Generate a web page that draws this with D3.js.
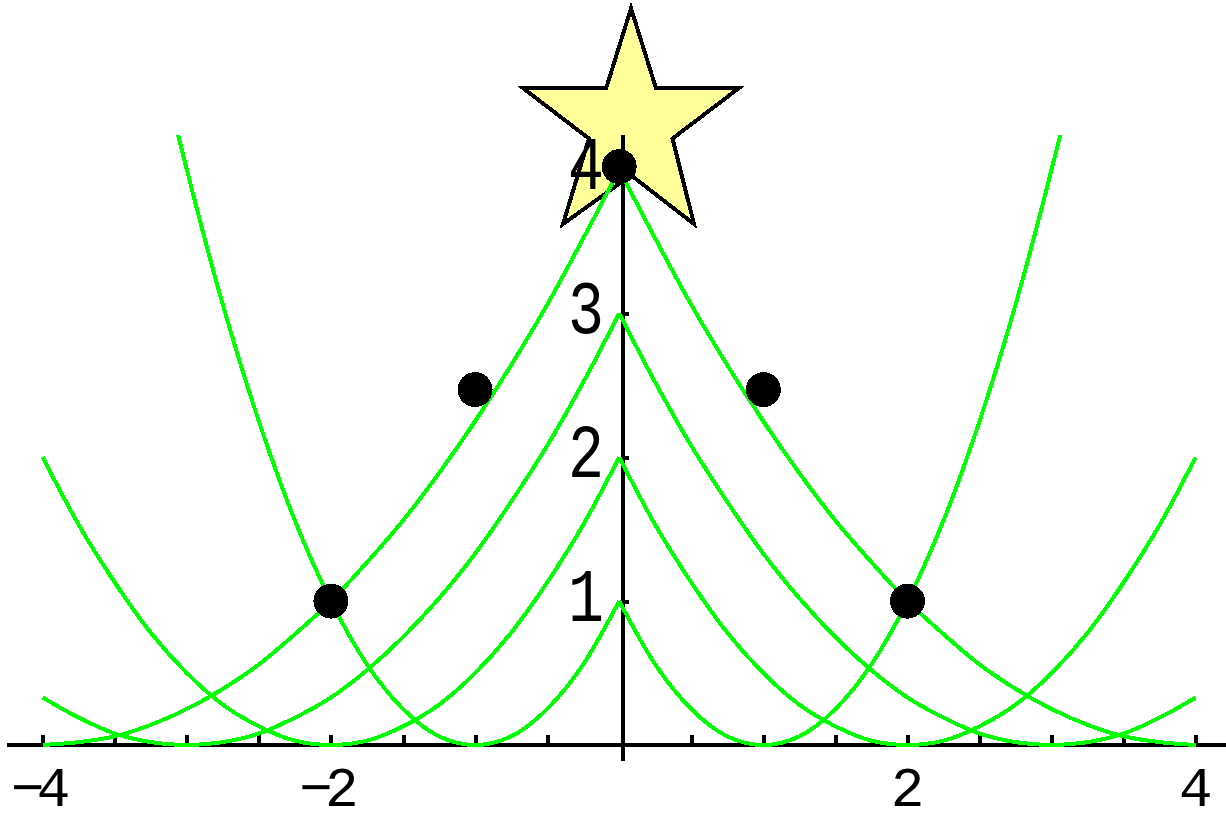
<!DOCTYPE html>
<html>
<head>
<meta charset="utf-8">
<script src="https://cdn.jsdelivr.net/npm/d3@7"></script>
<style>
  body { margin: 0; background: #fff; }
  svg { display: block; }
</style>
</head>
<body></body>
<script>

    // page size
    var width = 1226, height = 816;

    // sample points of the branches
    var xLeft  = [-4, -3.75, -3.5, -3.25, -3, -2.75, -2.5, -2.25, -2, -1.75, -1.5, -1.25, -1, -0.75, -0.5, -0.25, 0];
    var xRight = [0, 0.25, 0.5, 0.75, 1, 1.25, 1.5, 1.75, 2, 2.25, 2.5, 2.75, 3, 3.25, 3.5, 3.75, 4];
    var xLeftOuter  = [-3.06, -3, -2.75, -2.5, -2.25, -2, -1.75, -1.5, -1.25, -1, -0.75, -0.5, -0.25, 0];
    var xRightOuter = [0, 0.25, 0.5, 0.75, 1, 1.25, 1.5, 1.75, 2, 2.25, 2.5, 2.75, 3, 3.06];

    var branch4Left  = [0, 0.02, 0.06, 0.14, 0.25, 0.39, 0.56, 0.77, 1, 1.27, 1.56, 1.89, 2.25, 2.64, 3.06, 3.52, 4];
    var branch4Right = [4, 3.52, 3.06, 2.64, 2.25, 1.89, 1.56, 1.27, 1, 0.77, 0.56, 0.39, 0.25, 0.14, 0.06, 0.02, 0];
    var branch3Left  = [0.33, 0.19, 0.08, 0.02, 0, 0.02, 0.08, 0.19, 0.33, 0.52, 0.75, 1.02, 1.33, 1.69, 2.08, 2.52, 3];
    var branch3Right = [3, 2.52, 2.08, 1.69, 1.33, 1.02, 0.75, 0.52, 0.33, 0.19, 0.08, 0.02, 0, 0.02, 0.08, 0.19, 0.33];
    var branch2Left  = [2, 1.53, 1.13, 0.78, 0.5, 0.28, 0.13, 0.03, 0, 0.03, 0.13, 0.28, 0.5, 0.78, 1.13, 1.53, 2];
    var branch2Right = [2, 1.53, 1.13, 0.78, 0.5, 0.28, 0.13, 0.03, 0, 0.03, 0.13, 0.28, 0.5, 0.78, 1.13, 1.53, 2];
    var branch1Left  = [4.24, 4, 3.06, 2.25, 1.56, 1, 0.56, 0.25, 0.06, 0, 0.06, 0.25, 0.56, 1];
    var branch1Right = [1, 0.56, 0.25, 0.06, 0, 0.06, 0.25, 0.56, 1, 1.56, 2.25, 3.06, 4, 4.24];

    // ornaments
    var ballX = [-2, -1, 0, 1, 2];
    var ballY = [1, 2.47, 4.02, 2.47, 1];

    // star outline (data units)
    var starX = [0.082, 0.255, 0.831, 0.37, 0.519, 0.082, -0.39, -0.21, -0.668, -0.09];
    var starY = [5.12, 4.566, 4.566, 4.215, 3.621, 3.96, 3.621, 4.215, 4.566, 4.566];

    // ticks
    var xTicks = [-4, -3.5, -3, -2.5, -2, -1.5, -1, -0.5, 0.5, 1, 1.5, 2, 2.5, 3, 3.5, 4];
    var xLabels = [-4, -2, 2, 4];
    var yTicks = [1, 2, 3, 4];
    var yAxisAt = 0.025;

    var x = d3.scaleLinear().domain([-4, 4]).range([42.7, 1195.7]);
    var y = d3.scaleLinear().domain([0, 4]).range([745, 169.5]);

    var svg = d3.select("body")
        .append("svg")
        .attr("width", width)
        .attr("height", height);

    var green = "#00ff00";

    //star behind everything
    var starPts = starX.map(function (d, i) { return [d, starY[i]]; });
    svg.append("path")
        .attr("d", d3.line().x(d => x(d[0])).y(d => y(d[1]))(starPts) + "Z")
        .attr("fill", "#ffff99")
        .attr("stroke", "black")
        .attr("stroke-width", 4)
        .attr("stroke-linejoin", "miter")
        .style("shape-rendering", "crispEdges");

    //x-axis
    svg.append("line")
        .attr("x1", x(-4.25)).attr("x2", x(4.3))
        .attr("y1", y(0)).attr("y2", y(0))
        .attr("stroke", "black").attr("stroke-width", 4)
        .style("shape-rendering", "crispEdges");

    var xAxis = svg.append("g")
        .attr("transform", "translate(0," + y(0) + ")")
        .call(d3.axisTop(x).tickValues(xTicks).tickSize(10).tickFormat(""));
    xAxis.select(".domain").remove();
    xAxis.selectAll("line").attr("stroke", "black").attr("stroke-width", 4)
        .style("shape-rendering", "crispEdges");

    //y-axis
    svg.append("line")
        .attr("x1", x(yAxisAt)).attr("x2", x(yAxisAt))
        .attr("y1", y(4.24)).attr("y2", y(-0.11))
        .attr("stroke", "black").attr("stroke-width", 4)
        .style("shape-rendering", "crispEdges");

    var yAxis = svg.append("g")
        .attr("transform", "translate(" + x(yAxisAt) + ",0)")
        .call(d3.axisRight(y).tickValues(yTicks).tickSize(6).tickFormat(""));
    yAxis.select(".domain").remove();
    yAxis.selectAll("line").attr("stroke", "black").attr("stroke-width", 4)
        .style("shape-rendering", "crispEdges");

    //branches
    var branches = [
        [xLeft, branch4Left], [xRight, branch4Right],
        [xLeft, branch3Left], [xRight, branch3Right],
        [xLeft, branch2Left], [xRight, branch2Right],
        [xLeftOuter, branch1Left], [xRightOuter, branch1Right]
    ];
    var line = d3.line()
        .x(d => x(d[0]))
        .y(d => y(d[1]))
        .curve(d3.curveMonotoneX);

    svg.append("g")
        .selectAll("path")
        .data(branches)
        .enter()
        .append("path")
        .attr("d", function (b) {
            return line(b[0].map(function (v, i) { return [v, b[1][i]]; }));
        })
        .attr("fill", "none")
        .attr("stroke", green)
        .attr("stroke-width", 4)
        .style("shape-rendering", "crispEdges");

    //tick labels
    svg.append("g")
        .selectAll("text")
        .data(xLabels)
        .enter()
        .append("text")
        .attr("x", d => x(d) + (d < 0 ? -6 : 0))
        .attr("y", 806)
        .attr("text-anchor", "middle")
        .style("font-family", "'Liberation Mono', monospace")
        .style("font-size", "56px")
        .style("letter-spacing", d => d < 0 ? "-8px" : "0px")
        .text(d => d < 0 ? "\u2212" + Math.abs(d) : d);

    svg.append("g")
        .selectAll("text")
        .data(yTicks)
        .enter()
        .append("text")
        .attr("transform", d => "translate(604," + (y(d) - 4) + ") scale(1,1.27)")
        .attr("y", 18.5)
        .attr("text-anchor", "end")
        .style("font-family", "'Liberation Mono', monospace")
        .style("font-size", "60px")
        .text(d => d);

    //ornaments
    svg.append("g")
        .selectAll("circle")
        .data(ballX)
        .enter()
        .append("circle")
        .attr("cx", d => x(d))
        .attr("cy", (d, i) => y(ballY[i]))
        .attr("r", 17.5)
        .style("fill", "black")
        .style("shape-rendering", "crispEdges");

</script>
</html>
